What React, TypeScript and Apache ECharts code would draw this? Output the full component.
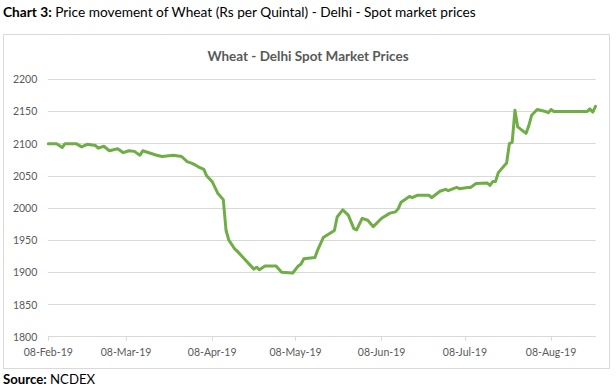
import React, { useEffect, useRef } from "react";
import * as echarts from "echarts";

// ---- Data ----
const dates = [
  "2019-02-08", "2019-02-11", "2019-02-13", "2019-02-14", "2019-02-18", "2019-02-20",
  "2019-02-22", "2019-02-25", "2019-02-26", "2019-02-28", "2019-03-02", "2019-03-05",
  "2019-03-07", "2019-03-09", "2019-03-11", "2019-03-13", "2019-03-14", "2019-03-19",
  "2019-03-21", "2019-03-25", "2019-03-28", "2019-03-30", "2019-04-01", "2019-04-03",
  "2019-04-05", "2019-04-06", "2019-04-08", "2019-04-10", "2019-04-12", "2019-04-13",
  "2019-04-14", "2019-04-16", "2019-04-17", "2019-04-23", "2019-04-24", "2019-04-25",
  "2019-04-27", "2019-05-01", "2019-05-03", "2019-05-07", "2019-05-09", "2019-05-10",
  "2019-05-11", "2019-05-15", "2019-05-16", "2019-05-18", "2019-05-22", "2019-05-23",
  "2019-05-25", "2019-05-27", "2019-05-29", "2019-05-30", "2019-06-01", "2019-06-03",
  "2019-06-05", "2019-06-08", "2019-06-11", "2019-06-13", "2019-06-14", "2019-06-15",
  "2019-06-18", "2019-06-19", "2019-06-21", "2019-06-25", "2019-06-26", "2019-06-29",
  "2019-07-01", "2019-07-02", "2019-07-05", "2019-07-06", "2019-07-09", "2019-07-10",
  "2019-07-12", "2019-07-16", "2019-07-17", "2019-07-18", "2019-07-19", "2019-07-20",
  "2019-07-23", "2019-07-24", "2019-07-25", "2019-07-26", "2019-07-27", "2019-07-30",
  "2019-07-31", "2019-08-01", "2019-08-03", "2019-08-06", "2019-08-07", "2019-08-08",
  "2019-08-09", "2019-08-21", "2019-08-22", "2019-08-23", "2019-08-24",
];

const prices = [
  2100, 2100, 2094, 2100, 2100, 2095,
  2099, 2097, 2093, 2096, 2089, 2092,
  2086, 2089, 2088, 2082, 2089, 2082,
  2080, 2082, 2080, 2072, 2069, 2064,
  2060, 2050, 2041, 2023, 2013, 1965,
  1950, 1937, 1933, 1905, 1908, 1904,
  1910, 1910, 1900, 1899, 1910, 1913,
  1921, 1923, 1935, 1954, 1965, 1986,
  1997, 1989, 1968, 1966, 1984, 1981,
  1971, 1984, 1992, 1994, 1999, 2009,
  2018, 2016, 2020, 2020, 2016, 2026,
  2029, 2027, 2032, 2030, 2032, 2032,
  2038, 2039, 2035, 2041, 2041, 2055,
  2070, 2100, 2102, 2152, 2126, 2116,
  2128, 2144, 2153, 2150, 2148, 2153,
  2150, 2150, 2154, 2149, 2158,
];

const tickDates = [
  "2019-02-08", "2019-03-08", "2019-04-08", "2019-05-08",
  "2019-06-08", "2019-07-08", "2019-08-08",
];
const xStart = "2019-02-08";
const xEnd = "2019-08-24";
const yMin = 1800;
const yMax = 2200;
const yStep = 50;

const figureLabel = "Chart 3:";
const figureText = " Price movement of Wheat (Rs per Quintal) - Delhi - Spot market prices";
const chartTitle = "Wheat - Delhi Spot Market Prices";
const sourceLabel = "Source:";
const sourceText = " NCDEX";

const MONTHS = ["Jan", "Feb", "Mar", "Apr", "May", "Jun", "Jul", "Aug", "Sep", "Oct", "Nov", "Dec"];

function toTs(s: string): number {
  const [y, m, d] = s.split("-").map(Number);
  return new Date(y, m - 1, d).getTime();
}

function fmtDate(ts: number): string {
  const d = new Date(ts);
  const dd = String(d.getDate()).padStart(2, "0");
  return dd + "-" + MONTHS[d.getMonth()] + "-" + String(d.getFullYear()).slice(2);
}

const FONT = "Lato, 'Open Sans', sans-serif";

export default function App() {
  const ref = useRef<HTMLDivElement>(null);

  useEffect(() => {
    if (!ref.current) return;
    const chart = echarts.init(ref.current, null, { renderer: "svg", width: 616, height: 387 });
    const seriesData = dates.map((d, i) => [toTs(d), prices[i]]);
    const tickValues = tickDates.map(toTs);

    chart.setOption({
      animation: false,
      backgroundColor: "#ffffff",
      textStyle: { fontFamily: FONT },
      title: {
        text: chartTitle,
        left: "center",
        top: 44,
        textStyle: { fontFamily: FONT, fontSize: 13.5, fontWeight: "bold", color: "#595959" },
      },
      graphic: [
        {
          type: "rect",
          shape: { x: 3.5, y: 34.5, width: 606, height: 334 },
          style: { fill: "none", stroke: "#d9d9d9", lineWidth: 1 },
          z: -1,
        },
        {
          type: "text",
          x: 3,
          y: 11,
          style: {
            text: "{b|" + figureLabel + "}{n|" + figureText + "}",
            verticalAlign: "middle",
            rich: {
              b: { fontFamily: FONT, fontSize: 13.7, fontWeight: "bold", fill: "#000" },
              n: { fontFamily: FONT, fontSize: 13.7, fill: "#000" },
            },
          },
        },
        {
          type: "text",
          x: 3,
          y: 379,
          style: {
            text: "{b|" + sourceLabel + "}{n|" + sourceText + "}",
            verticalAlign: "middle",
            rich: {
              b: { fontFamily: FONT, fontSize: 13.2, fontWeight: "bold", fill: "#000" },
              n: { fontFamily: FONT, fontSize: 13.2, fill: "#000" },
            },
          },
        },
      ],
      grid: { left: 48.3, right: 20.5, top: 79.3, bottom: 50.3, containLabel: false },
      xAxis: {
        type: "value",
        min: toTs(xStart),
        max: toTs(xEnd),
        axisLine: { show: true, lineStyle: { color: "#d9d9d9", width: 1 } },
        axisTick: {
          show: true,
          length: 4,
          customValues: tickValues,
          lineStyle: { color: "#d9d9d9" },
        },
        axisLabel: {
          customValues: tickValues,
          formatter: (v: number) => fmtDate(v),
          color: "#595959",
          fontFamily: FONT,
          fontSize: 10.5,
          margin: 10,
          hideOverlap: false,
        },
        splitLine: { show: false },
      },
      yAxis: {
        type: "value",
        min: yMin,
        max: yMax,
        interval: yStep,
        axisLine: { show: false },
        axisTick: { show: false },
        axisLabel: {
          color: "#595959",
          fontFamily: FONT,
          fontSize: 10.5,
          margin: 11,
          formatter: (v: number) => String(v),
        },
        splitLine: { lineStyle: { color: "#d9d9d9", width: 1 } },
      },
      series: [
        {
          type: "line",
          data: seriesData,
          showSymbol: false,
          symbol: "none",
          lineStyle: { color: "#70ad47", width: 3, cap: "round", join: "round" },
        },
      ],
    });

    return () => chart.dispose();
  }, []);

  return (
    <div
      ref={ref}
      style={{ position: "absolute", left: 0, top: 0, width: 616, height: 387, background: "#fff" }}
    />
  );
}
